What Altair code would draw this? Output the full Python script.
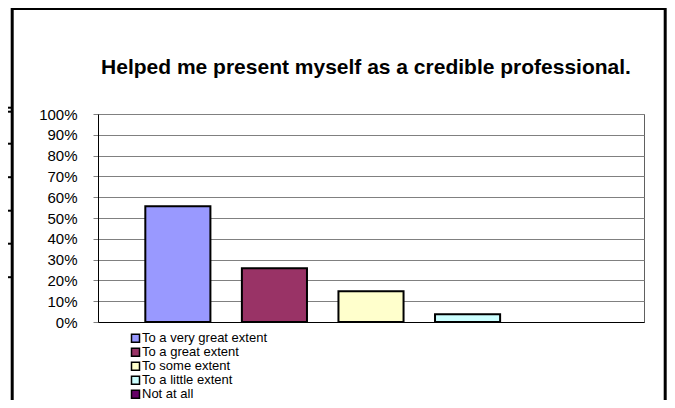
import altair as alt
import pandas as pd

categories = ["To a very great extent", "To a great extent", "To some extent",
              "To a little extent", "Not at all"]
values = [0.556, 0.259, 0.148, 0.037, 0.0]
colors = ["#9999FF", "#993366", "#FFFFCC", "#CCFFFF", "#660066"]
y_ticks = [0.0, 0.1, 0.2, 0.3, 0.4, 0.5, 0.6, 0.7, 0.8, 0.9, 1.0]
title_text = "Helped me present myself as a credible professional."

df = pd.DataFrame({"category": categories, "value": values})

FONT = "Liberation Sans"

bars = alt.Chart(df).mark_bar(stroke="black").encode(
    x=alt.X("category:N", sort=categories,
            scale=alt.Scale(paddingInner=0.326, paddingOuter=0.49),
            axis=alt.Axis(labels=False, ticks=False, title=None, grid=False,
                          domainColor="black", domainWidth=1)),
    y=alt.Y("value:Q", scale=alt.Scale(domain=[0, 1], nice=False),
            axis=alt.Axis(values=y_ticks, format=".0%", title=None,
                          grid=True, gridColor="#808080", gridWidth=1,
                          domainColor="black", domainWidth=1,
                          tickColor="#808080", tickSize=5,
                          labelFontSize=15, labelColor="black", labelFont=FONT,
                          labelPadding=16)),
    color=alt.Color("category:N", sort=categories,
                    scale=alt.Scale(domain=categories, range=colors),
                    legend=alt.Legend(orient="none", legendX=31, legendY=217.5,
                                      title=None, symbolType="square",
                                      symbolSize=64, symbolStrokeColor="black",
                                      symbolStrokeWidth=1.5, labelFontSize=13,
                                      labelFont=FONT, labelColor="black",
                                      clipHeight=13.5, rowPadding=0, labelOffset=0,
                                      padding=0)),
    strokeWidth=alt.condition("datum.value > 0", alt.value(2), alt.value(0)),
)

title = alt.Chart(alt.Data(values=[{"t": title_text}])).mark_text(
    font=FONT, fontSize=21, fontWeight="bold", color="black",
    align="center", baseline="alphabetic"
).encode(text="t:N", x=alt.value(268), y=alt.value(-40.3))

frame = alt.Chart(alt.Data(values=[{}])).mark_rect(
    fill="transparent", stroke="black", strokeWidth=3
).encode(
    x=alt.value(-85.8), x2=alt.value(567.2),
    y=alt.value(-105.6), y2=alt.value(400),
)

stubs = []
for yy in [-6.3, -2.3, 29.7, 63.2, 96.7, 129.7, 163.2]:
    stubs.append(
        alt.Chart(alt.Data(values=[{}])).mark_rule(stroke="black", strokeWidth=2).encode(
            x=alt.value(-92), x2=alt.value(-86), y=alt.value(yy)
        )
    )

chart = alt.layer(frame, bars, title, *stubs).properties(
    width=546, height=208,
    padding={"left": 90, "top": 106, "right": 23, "bottom": 78},
    autosize=alt.AutoSizeParams(type="none"),
    background="white",
).configure_view(stroke="#606060", strokeWidth=1)

chart.save("out.html", embed_options={"renderer": "svg", "actions": False})
